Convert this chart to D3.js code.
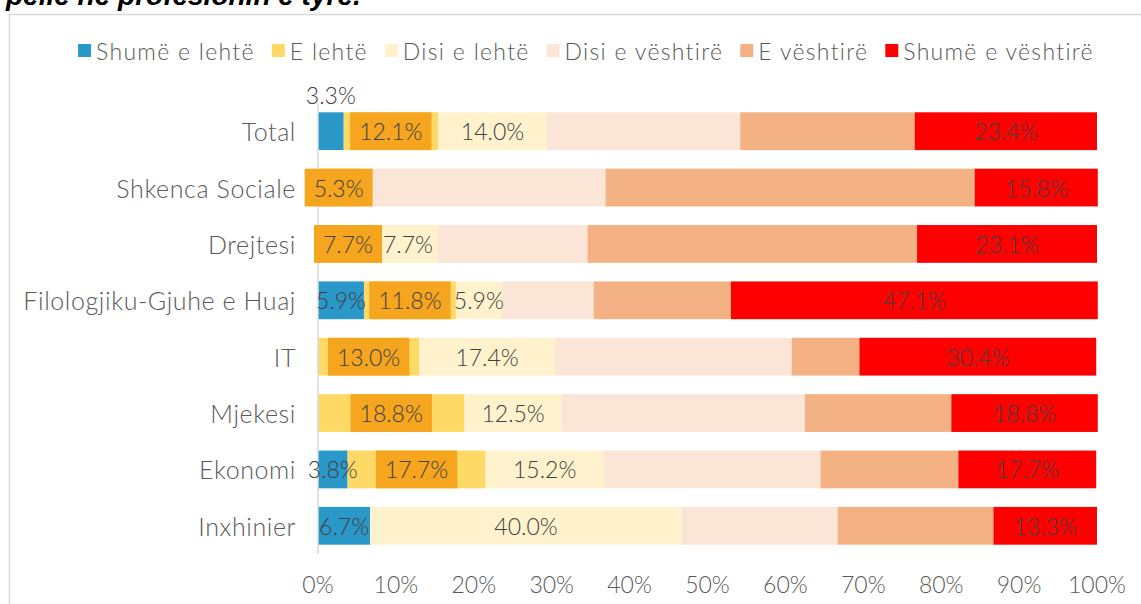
<!DOCTYPE html>
<html>
<head>
<meta charset="utf-8">
<script src="https://cdn.jsdelivr.net/npm/d3@7"></script>
<style>
  body { margin: 0; background: #fff; }
  svg { display: block; font-family: Lato, "Open Sans", sans-serif; }
</style>
</head>
<body>
<div id="chart"></div>
<script>
const categories = ["Total", "Shkenca Sociale", "Drejtesi", "Filologjiku-Gjuhe e Huaj", "IT", "Mjekesi", "Ekonomi", "Inxhinier"]
const seriesNames = ["Shumë e lehtë", "E lehtë", "Disi e lehtë", "Disi e vështirë", "E vështirë", "Shumë e vështirë"]
const colors = ["#2a98c8", "#ffd966", "#fff2cc", "#fbe5d6", "#f4b183", "#ff0000"]

// percent per category, in series order
const shumeLehte    = [3.3, 0,    0,    5.9,  0,    0,    3.8,  6.7]
const eLehte        = [12.1, 5.3, 7.7,  11.8, 13.0, 18.8, 17.7, 0]
const disiLehte     = [14.0, 0,   7.7,  5.9,  17.4, 12.5, 15.2, 40.0]
const disiVeshtire  = [24.8, 31.6, 19.2, 11.8, 30.4, 31.2, 27.8, 20.0]
const eVeshtire     = [22.4, 47.4, 42.3, 17.6, 8.7,  18.8, 17.7, 20.0]
const shumeVeshtire = [23.4, 15.8, 23.1, 47.1, 30.4, 18.8, 17.7, 13.3]

const xTicks = [0, 10, 20, 30, 40, 50, 60, 70, 80, 90, 100]
const labelledSeries = [0, 1, 2, 5]

const values = [shumeLehte, eLehte, disiLehte, disiVeshtire, eVeshtire, shumeVeshtire]

const W = 1141, H = 604
const svg = d3.select("#chart").append("svg")
  .attr("width", W)
  .attr("height", H)

// cut-off title from the page above
svg.append("text")
  .attr("x", 6)
  .attr("y", 5)
  .style("font-family", "'Liberation Sans', Arial, sans-serif")
  .style("font-weight", "bold")
  .style("font-style", "italic")
  .style("font-size", "28px")
  .attr("fill", "#000")
  .text("pelle ne profesionin e tyre.")

// chart frame
svg.append("rect")
  .attr("x", 9.5)
  .attr("y", 14.5)
  .attr("width", W + 20)
  .attr("height", H + 20)
  .attr("fill", "none")
  .attr("stroke", "#d9d9d9")
  .attr("stroke-width", 1.5)

const x = d3.scaleLinear().domain([0, 100]).range([318, 1097])
const y = d3.scaleBand().domain(categories).range([103, 554])
  .paddingInner(0.33).paddingOuter(0.165)

const rows = categories.map((c, i) => {
  const row = { cat: c }
  seriesNames.forEach((s, j) => row[s] = values[j][i])
  return row
})
const stacked = d3.stack().keys(seriesNames)(rows)

const layers = svg.append("g").selectAll("g")
  .data(stacked).enter().append("g")
  .attr("fill", (d, i) => colors[i])

layers.selectAll("rect")
  .data(d => d).enter().append("rect")
  .attr("x", d => x(d[0]))
  .attr("y", d => y(d.data.cat))
  .attr("width", d => x(d[1]) - x(d[0]))
  .attr("height", y.bandwidth())

// vertical axis line
svg.append("line")
  .attr("x1", x(0)).attr("x2", x(0))
  .attr("y1", 103).attr("y2", 554)
  .attr("stroke", "#d9d9d9")
  .attr("stroke-width", 1.5)

// category labels
svg.append("g").selectAll("text")
  .data(categories).enter().append("text")
  .attr("x", 296)
  .attr("y", c => y(c) + y.bandwidth() / 2)
  .attr("text-anchor", "end")
  .attr("dominant-baseline", "central")
  .attr("fill", "#595959")
  .style("font-size", "25px")
  .style("font-weight", 300)
  .style("letter-spacing", "0.6px")
  .text(c => c)

// x tick labels
svg.append("g").selectAll("text")
  .data(xTicks).enter().append("text")
  .attr("x", t => x(t))
  .attr("y", 584)
  .attr("text-anchor", "middle")
  .attr("dominant-baseline", "central")
  .attr("fill", "#595959")
  .style("font-size", "23px")
  .style("font-weight", 300)
  .text(t => t + "%")

// data labels
const fmt = v => v.toFixed(1) + "%"
labelledSeries.forEach(si => {
  const layer = stacked[si]
  const g = svg.append("g")
  layer.forEach(d => {
    const v = d[1] - d[0]
    if (v <= 0) return
    const cx = x((d[0] + d[1]) / 2)
    let cy = y(d.data.cat) + y.bandwidth() / 2
    if (si === 0 && d.data.cat === "Total") cy = y(d.data.cat) - 17
    const t = g.append("text")
      .attr("x", cx)
      .attr("y", cy)
      .attr("text-anchor", "middle")
      .attr("dominant-baseline", "central")
      .attr("fill", "#404040")
      .style("font-size", "23px")
      .style("font-weight", 300)
      .text(fmt(v))
    if (si === 1) {
      const w = t.node().getComputedTextLength() + 18
      g.insert("rect", () => t.node())
        .attr("x", cx - w / 2)
        .attr("y", y(d.data.cat))
        .attr("width", w)
        .attr("height", y.bandwidth())
        .attr("fill", "#f5a51e")
    }
  })
})

// legend
const legend = svg.append("g")
let lx = 0
seriesNames.forEach((s, i) => {
  const item = legend.append("g").attr("transform", `translate(${lx},0)`)
  item.append("rect")
    .attr("x", 0).attr("y", -7)
    .attr("width", 13).attr("height", 13)
    .attr("fill", colors[i])
  const t = item.append("text")
    .attr("x", 18)
    .attr("y", 0)
    .attr("dominant-baseline", "central")
    .attr("fill", "#595959")
    .style("font-size", "23px")
    .style("font-weight", 300)
    .style("letter-spacing", "1.3px")
    .text(s)
  lx += 18 + t.node().getComputedTextLength() + 17
})
const legendW = lx - 17
legend.attr("transform", `translate(${586 - legendW / 2},51)`)
</script>
</body>
</html>
